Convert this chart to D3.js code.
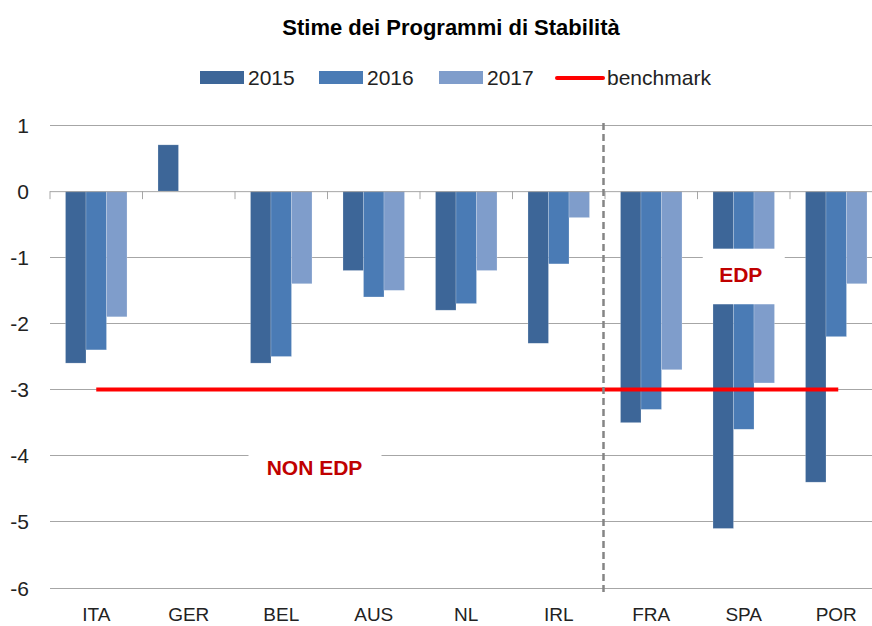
<!DOCTYPE html>
<html>
<head>
<meta charset="utf-8">
<script src="https://cdn.jsdelivr.net/npm/d3@7"></script>
<style>
  html, body { margin: 0; padding: 0; background: #fff; }
  svg { display: block; font-family: "Liberation Sans", Arial, sans-serif; }
</style>
</head>
<body>
<div id="chart"></div>
<script>
const categories = ["ITA", "GER", "BEL", "AUS", "NL", "IRL", "FRA", "SPA", "POR"]
const years = ["2015", "2016", "2017"]
const values2015 = [-2.6, 0.7, -2.6, -1.2, -1.8, -2.3, -3.5, -5.1, -4.4]
const values2016 = [-2.4, 0, -2.5, -1.6, -1.7, -1.1, -3.3, -3.6, -2.2]
const values2017 = [-1.9, 0, -1.4, -1.5, -1.2, -0.4, -2.7, -2.9, -1.4]
const benchmark = -3
const yTicks = [1, 0, -1, -2, -3, -4, -5, -6]

const seriesColors = { "2015": "#3d6698", "2016": "#4a7bb5", "2017": "#7f9dcb" }
const width = 872
const height = 626

const series = years.map((year, i) => ({
  year,
  values: [values2015, values2016, values2017][i]
}))

const svg = d3.select("#chart")
  .append("svg")
  .attr("width", width)
  .attr("height", height)

const x0 = d3.scaleBand()
  .domain(categories)
  .range([50, 882.5])
  .padding(0)

const gap = x0.step() * 0.1675
const x1 = d3.scaleBand()
  .domain(years)
  .range([gap, x0.bandwidth() - gap])

const y = d3.scaleLinear()
  .domain([-6, 1])
  .range([588, 125])

// Title
svg.append("text")
  .attr("x", 451)
  .attr("y", 35)
  .attr("text-anchor", "middle")
  .style("font-size", "22px")
  .style("font-weight", "bold")
  .style("fill", "#000")
  .text("Stime dei Programmi di Stabilità")

// Gridlines
svg.append("g")
  .selectAll("line")
  .data(yTicks.filter(d => d !== 0))
  .join("line")
  .attr("x1", 50)
  .attr("x2", width)
  .attr("y1", d => y(d))
  .attr("y2", d => y(d))
  .attr("stroke", "#a6a6a6")
  .attr("stroke-width", 1)
  .attr("shape-rendering", "crispEdges")

// Y labels
svg.append("g")
  .selectAll("text")
  .data(yTicks)
  .join("text")
  .attr("x", 29)
  .attr("y", d => y(d))
  .attr("dy", "0.36em")
  .attr("text-anchor", "end")
  .style("font-size", "21px")
  .style("fill", "#222")
  .text(d => d)

// Bars
const groups = svg.append("g")
  .selectAll("g")
  .data(series)
  .join("g")
  .attr("fill", d => seriesColors[d.year])

groups.selectAll("rect")
  .data(d => d.values.map((v, i) => ({ year: d.year, cat: categories[i], value: v })))
  .join("rect")
  .attr("x", d => x0(d.cat) + x1(d.year))
  .attr("width", x1.bandwidth())
  .attr("y", d => y(Math.max(0, d.value)))
  .attr("height", d => Math.abs(y(d.value) - y(0)))
  .attr("stroke", "rgba(255,255,255,0.35)")
  .attr("stroke-width", 0.6)

// Zero axis with ticks
const zeroAxis = svg.append("g")
  .attr("transform", `translate(0,${y(0)})`)
  .call(
    d3.axisBottom(x0)
      .tickValues([])
      .tickSizeOuter(0)
  )
zeroAxis.select(".domain")
  .attr("d", `M50,0.5H${width}`)
  .attr("stroke", "#a6a6a6")

zeroAxis.selectAll(".boundary")
  .data(d3.range(categories.length + 1))
  .join("line")
  .attr("class", "boundary")
  .attr("x1", i => 50 + i * x0.step())
  .attr("x2", i => 50 + i * x0.step())
  .attr("y1", 0)
  .attr("y2", 8)
  .attr("stroke", "#a6a6a6")

// Category labels
svg.append("g")
  .selectAll("text")
  .data(categories)
  .join("text")
  .attr("x", d => x0(d) + x0.bandwidth() / 2)
  .attr("y", 621)
  .attr("text-anchor", "middle")
  .style("font-size", "19px")
  .style("fill", "#222")
  .text(d => d)

// Benchmark line
svg.append("line")
  .attr("x1", x0(categories[0]) + x0.bandwidth() / 2)
  .attr("x2", x0(categories[categories.length - 1]) + x0.bandwidth() / 2 + 2)
  .attr("y1", y(benchmark))
  .attr("y2", y(benchmark))
  .attr("stroke", "#ff0000")
  .attr("stroke-width", 4)

// Dashed separator between IRL and FRA
const defs = svg.append("defs")
defs.append("filter")
  .attr("id", "soft")
  .attr("x", "-50%").attr("width", "200%")
  .append("feGaussianBlur")
  .attr("stdDeviation", 1.2)

const sepX = x0("FRA") - 1.5
svg.append("line")
  .attr("x1", sepX + 1)
  .attr("x2", sepX + 1)
  .attr("y1", y(1) - 2)
  .attr("y2", y(-6) + 6)
  .attr("stroke", "#c8c8c8")
  .attr("stroke-width", 4)
  .attr("stroke-dasharray", "7,4")
  .attr("filter", "url(#soft)")
svg.append("line")
  .attr("x1", sepX)
  .attr("x2", sepX)
  .attr("y1", y(1) - 2)
  .attr("y2", y(-6) + 6)
  .attr("stroke", "#858585")
  .attr("stroke-width", 2.5)
  .attr("stroke-dasharray", "7,4")

// EDP annotation box
const spaCenter = x0("SPA") + x0.bandwidth() / 2
svg.append("rect")
  .attr("x", spaCenter - 41)
  .attr("width", 82)
  .attr("y", y(-0.87))
  .attr("height", y(-1.71) - y(-0.87))
  .attr("fill", "#fff")
svg.append("text")
  .attr("x", spaCenter - 3)
  .attr("y", y(-1.38))
  .attr("text-anchor", "middle")
  .style("font-size", "21px")
  .style("font-weight", "bold")
  .style("fill", "#c00000")
  .text("EDP")

// NON EDP annotation box
const nonX = x0("BEL") + x0.bandwidth() + -13
svg.append("rect")
  .attr("x", nonX - 66)
  .attr("width", 133)
  .attr("y", y(-3.87))
  .attr("height", y(-4.43) - y(-3.87))
  .attr("fill", "#fff")
svg.append("text")
  .attr("x", nonX)
  .attr("y", y(-4.29))
  .attr("text-anchor", "middle")
  .style("font-size", "21px")
  .style("font-weight", "bold")
  .style("fill", "#c00000")
  .text("NON EDP")

// Legend
const legendItems = [
  { label: "2015", type: "rect", color: seriesColors["2015"], x: 200 },
  { label: "2016", type: "rect", color: seriesColors["2016"], x: 319 },
  { label: "2017", type: "rect", color: seriesColors["2017"], x: 439 },
  { label: "benchmark", type: "line", color: "#ff0000", x: 557 }
]
const legend = svg.append("g")
  .selectAll("g")
  .data(legendItems)
  .join("g")
  .attr("transform", d => `translate(${d.x},77)`)

legend.filter(d => d.type === "rect")
  .append("rect")
  .attr("x", 0)
  .attr("y", -6)
  .attr("width", 44)
  .attr("height", 13)
  .attr("fill", d => d.color)

legend.filter(d => d.type === "line")
  .append("line")
  .attr("x1", 0)
  .attr("x2", 46)
  .attr("y1", 1)
  .attr("y2", 1)
  .attr("stroke", d => d.color)
  .attr("stroke-width", 4)
  .attr("stroke-linecap", "round")

legend.append("text")
  .attr("x", d => d.type === "line" ? 50 : 48)
  .attr("y", 8)
  .style("font-size", "21px")
  .style("fill", "#222")
  .text(d => d.label)
</script>
</body>
</html>
